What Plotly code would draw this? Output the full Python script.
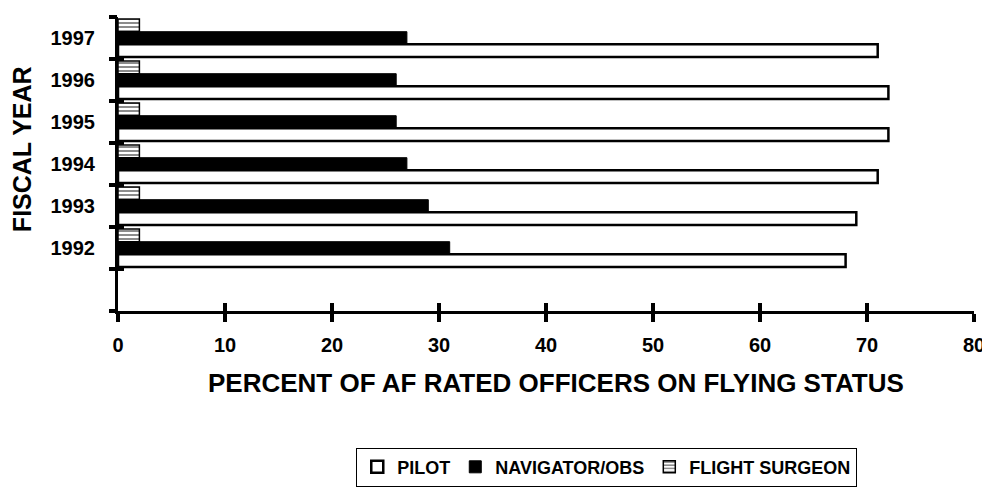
import plotly.graph_objects as go

years = ["1992", "1993", "1994", "1995", "1996", "1997"]
pilot = [68, 69, 71, 72, 72, 71]
navigator = [31, 29, 27, 26, 26, 27]
surgeon = [2, 2, 2, 2, 2, 2]
x_ticks = [0, 10, 20, 30, 40, 50, 60, 70, 80]
x_title = "PERCENT OF AF RATED OFFICERS ON FLYING STATUS"
y_title = "FISCAL YEAR"

# numeric slot positions: slot 0-1 is left empty, years occupy slots 1..6
ypos = [i + 1.5 for i in range(len(years))]
slot_edges = list(range(0, len(years) + 2))
yrange = [0, len(years) + 1]
xrange = [0, 80]

FONT = "Liberation Sans"

fig = go.Figure()
fig.add_trace(go.Bar(
    y=ypos, x=pilot, orientation="h", name="PILOT",
    marker=dict(color="white", line=dict(color="black", width=2.5)),
))
fig.add_trace(go.Bar(
    y=ypos, x=navigator, orientation="h", name="NAVIGATOR/OBS",
    marker=dict(color="black", line=dict(color="black", width=1)),
))
fig.add_trace(go.Bar(
    y=ypos, x=surgeon, orientation="h", name="FLIGHT SURGEON",
    marker=dict(color="white", line=dict(color="black", width=1.5),
                pattern=dict(shape="-", fgcolor="black", bgcolor="white",
                             size=4, solidity=0.45)),
))
# empty helper traces so the overlaying tick-only axes get drawn
for xa, ya in (("x2", "y"), ("x", "y2"), ("x", "y3")):
    fig.add_trace(go.Scatter(x=[], y=[], xaxis=xa, yaxis=ya, showlegend=False,
                             hoverinfo="skip"))

axis_common = dict(showgrid=False, zeroline=False, automargin=False)

# the page body has an 8px margin, so the figure is sized to fit inside it
fig.update_layout(
    width=982, height=479,
    margin=dict(l=110, r=16, t=9, b=176, autoexpand=False),
    paper_bgcolor="white", plot_bgcolor="white",
    barmode="group", bargap=0.1, bargroupgap=0,
    font=dict(family=FONT, color="black", size=20, weight="bold"),
    showlegend=True,
    legend=dict(
        orientation="h", x=0.571, xanchor="center", y=-0.531, yanchor="middle",
        bordercolor="black", borderwidth=1, bgcolor="white",
        font=dict(family=FONT, size=18, color="black", weight="bold"),
        itemwidth=30, traceorder="normal",
    ),
    xaxis=dict(
        **axis_common, range=xrange, tickvals=x_ticks,
        ticks="outside", ticklen=8, tickwidth=4, tickcolor="black",
        showline=True, linewidth=3, linecolor="black",
        ticklabelstandoff=6,
        tickfont=dict(family=FONT, size=20, weight="bold"),
    ),
    xaxis2=dict(
        **axis_common, range=xrange, tickvals=x_ticks, overlaying="x", anchor="y",
        side="bottom", ticks="inside", ticklen=8, tickwidth=4, tickcolor="black",
        showticklabels=False, showline=False,
    ),
    yaxis=dict(
        **axis_common, range=yrange, tickvals=ypos, ticktext=years,
        ticks="", showline=True, linewidth=3, linecolor="black",
        ticklabelstandoff=16,
        tickfont=dict(family=FONT, size=20, weight="bold"),
    ),
    yaxis2=dict(
        **axis_common, range=yrange, tickvals=slot_edges, overlaying="y", anchor="x",
        side="left", ticks="outside", ticklen=8, tickwidth=4, tickcolor="black",
        showticklabels=False, showline=False,
    ),
    yaxis3=dict(
        **axis_common, range=yrange, tickvals=slot_edges, overlaying="y", anchor="x",
        side="left", ticks="inside", ticklen=6, tickwidth=3, tickcolor="black",
        showticklabels=False, showline=False,
    ),
    annotations=[
        dict(text=x_title, xref="paper", yref="paper", x=0.512, y=-0.245,
             xanchor="center", yanchor="middle", showarrow=False,
             font=dict(family=FONT, size=26, weight="bold", color="black")),
        dict(text=y_title, xref="paper", yref="paper", x=-0.112, y=0.551,
             xanchor="center", yanchor="middle", showarrow=False, textangle=-90,
             font=dict(family=FONT, size=25, weight="bold", color="black")),
    ],
)

fig.write_html("out.html")
